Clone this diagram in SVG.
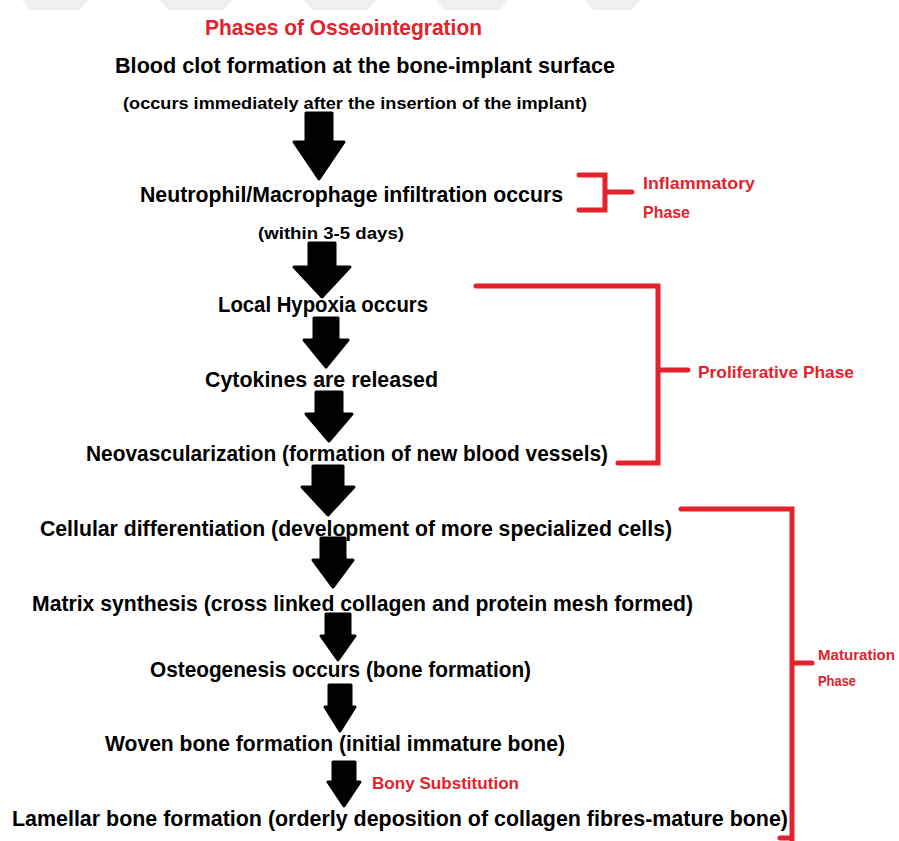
<svg xmlns="http://www.w3.org/2000/svg" width="899" height="841" viewBox="0 0 899 841">
<style>
.t{font-family:"Liberation Sans","Noto Sans",Arial,sans-serif;font-weight:bold;fill:#000;}
.m{font-size:22px;}
.s{font-size:17px;}
.r{font-family:"Liberation Sans","Noto Sans",Arial,sans-serif;font-weight:bold;fill:#e3222b;}
.arrow{fill:#000;stroke:#000;stroke-width:3;stroke-linejoin:round;}
.br{fill:none;stroke:#e3222b;stroke-width:5;stroke-linecap:round;stroke-linejoin:miter;}
.wm{fill:#f0f0f0;}
</style>
<rect width="899" height="841" fill="#fff"/>
<g id="watermark">
<polygon class="wm" points="22,0 88,0 80,10 30,10"/>
<polygon class="wm" points="160,0 232,0 224,10 168,10"/>
<polygon class="wm" points="304,0 376,0 368,10 312,10"/>
<polygon class="wm" points="436,0 508,0 500,10 444,10"/>
<polygon class="wm" points="585,0 640,0 632,10 593,10"/>
</g>
<g id="title"><text class="r" x="205" y="35" font-size="22" textLength="277" lengthAdjust="spacingAndGlyphs">Phases of Osseointegration</text></g>
<g id="connectors">
<path class="arrow" d="M306,113 H332 V142 H344 L319,179 L294,142 H306 Z"/>
<path class="arrow" d="M309,243 H335 V267 H350 L322,297 L294,267 H309 Z"/>
<path class="arrow" d="M314,318 H338 V340 H348 L326,367 L304,340 H314 Z"/>
<path class="arrow" d="M316,392 H342 V414 H352 L329,441 L306,414 H316 Z"/>
<path class="arrow" d="M313,466 H343 V487 H354 L328,515 L302,487 H313 Z"/>
<path class="arrow" d="M321,538 H345 V560 H353 L333,587 L313,560 H321 Z"/>
<path class="arrow" d="M326,614 H350 V636 H355 L338,660 L321,636 H326 Z"/>
<path class="arrow" d="M329,685 H351 V707 H355 L340,731 L325,707 H329 Z"/>
<path class="arrow" d="M333,762 H355 V782 H360 L344,806 L328,782 H333 Z"/>
</g>
<g id="n1"><text class="t m" x="115" y="73" textLength="500" lengthAdjust="spacingAndGlyphs">Blood clot formation at the bone-implant surface</text>
<text class="t s" x="123" y="109" textLength="464" lengthAdjust="spacingAndGlyphs">(occurs immediately after the insertion of the implant)</text></g>
<g id="n2"><text class="t m" x="140" y="202" textLength="423" lengthAdjust="spacingAndGlyphs">Neutrophil/Macrophage infiltration occurs</text>
<text class="t s" x="258" y="239" textLength="146" lengthAdjust="spacingAndGlyphs">(within 3-5 days)</text></g>
<g id="n3"><text class="t m" x="218" y="312" textLength="210" lengthAdjust="spacingAndGlyphs">Local Hypoxia occurs</text></g>
<g id="n4"><text class="t m" x="205" y="387" textLength="233" lengthAdjust="spacingAndGlyphs">Cytokines are released</text></g>
<g id="n5"><text class="t m" x="86" y="461" textLength="522" lengthAdjust="spacingAndGlyphs">Neovascularization (formation of new blood vessels)</text></g>
<g id="n6"><text class="t m" x="40" y="536" textLength="632" lengthAdjust="spacingAndGlyphs">Cellular differentiation (development of more specialized cells)</text></g>
<g id="n7"><text class="t m" x="32" y="611" textLength="661" lengthAdjust="spacingAndGlyphs">Matrix synthesis (cross linked collagen and protein mesh formed)</text></g>
<g id="n8"><text class="t m" x="150" y="677" textLength="381" lengthAdjust="spacingAndGlyphs">Osteogenesis occurs (bone formation)</text></g>
<g id="n9"><text class="t m" x="105" y="751" textLength="460" lengthAdjust="spacingAndGlyphs">Woven bone formation (initial immature bone)</text></g>
<g id="n10"><text class="t m" x="12" y="826" textLength="776" lengthAdjust="spacingAndGlyphs">Lamellar bone formation (orderly deposition of collagen fibres-mature bone)</text></g>
<g id="bony"><text class="r" x="372" y="789" font-size="17" textLength="147" lengthAdjust="spacingAndGlyphs">Bony Substitution</text></g>
<g id="inflammatory">
<path class="br" d="M579,175 H605 V210 H579 M605,192 H632"/>
<text class="r" x="643" y="189" font-size="17" textLength="112" lengthAdjust="spacingAndGlyphs">Inflammatory</text>
<text class="r" x="643" y="218" font-size="17" textLength="47" lengthAdjust="spacingAndGlyphs">Phase</text>
</g>
<g id="proliferative">
<path class="br" d="M476,286 H658 V463 H618 M658,370 H688"/>
<text class="r" x="698" y="378" font-size="17" textLength="156" lengthAdjust="spacingAndGlyphs">Proliferative Phase</text>
</g>
<g id="maturation">
<path class="br" d="M681,509 H792 V841 M792,663 H812 M780,838 H792"/>
<text class="r" x="818" y="660" font-size="15" textLength="77" lengthAdjust="spacingAndGlyphs">Maturation</text>
<text class="r" x="818" y="686" font-size="15" textLength="38" lengthAdjust="spacingAndGlyphs">Phase</text>
</g>
</svg>
